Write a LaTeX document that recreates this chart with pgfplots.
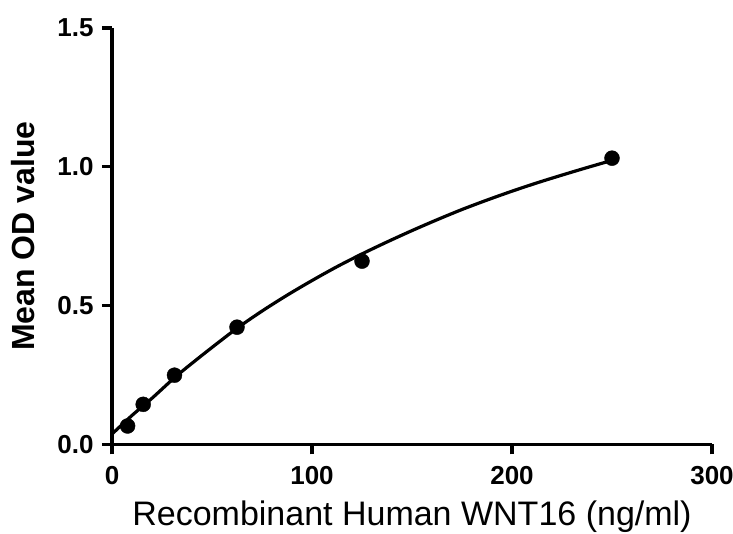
\documentclass[border=0pt]{standalone}
\usepackage{fontspec}
\setmainfont{Liberation Sans}
\usepackage{pgfplots}
\pgfplotsset{compat=1.18}

% measured standard points (ng/ml vs mean OD)
\pgfplotstableread{
x y
7.8 0.066
15.6 0.144
31.25 0.249
62.5 0.422
125 0.660
250 1.031
}\stdpts

% fitted curve
\pgfplotstableread{
x y
0 0.037
10 0.104
20 0.166
31.25 0.240
40 0.292
50 0.349
62.5 0.418
75 0.480
87.5 0.537
100 0.590
112.5 0.640
125 0.686
137.5 0.729
150 0.770
162.5 0.809
175 0.846
187.5 0.880
200 0.912
212.5 0.942
225 0.970
237.5 0.997
250 1.023
}\fitcurve

\begin{document}
\begin{tikzpicture}
\path[use as bounding box] (-112pt,-88.7pt) rectangle (621pt,444.3pt);
\begin{axis}[
  scale only axis,
  width=600pt,height=416.3pt,
  xmin=0,xmax=300,ymin=0,ymax=1.5,
  axis x line*=bottom,axis y line*=left,
  axis line style={line width=3.2pt,-},
  xtick={0,100,200,300},ytick={0,0.5,1,1.5},
  yticklabel style={/pgf/number format/fixed,/pgf/number format/fixed zerofill,/pgf/number format/precision=1},
  /pgf/number format/assume math mode=true,
  tick align=outside,
  major tick length=10pt,
  tick style={line width=3.2pt,black},
  tick label style={font=\fontsize{26}{31}\selectfont\bfseries},
  xticklabel style={yshift=-9pt},
  yticklabel style={xshift=-5pt},
  every axis x label/.style={at={(axis description cs:0.5,-0.1946)},anchor=base},
  every axis y label/.style={at={(axis description cs:-0.148,0.5)},rotate=90,anchor=center},
  xlabel={\fontsize{34}{40}\selectfont Recombinant Human WNT16 (ng/ml)},
  ylabel={\fontsize{32}{38}\selectfont\bfseries Mean OD value},
  clip=false
]
\addplot[black,line width=3.2pt,smooth] table {\fitcurve};
\addplot[only marks,mark=*,mark size=7.5pt,black] table {\stdpts};
\end{axis}
\end{tikzpicture}
\end{document}
